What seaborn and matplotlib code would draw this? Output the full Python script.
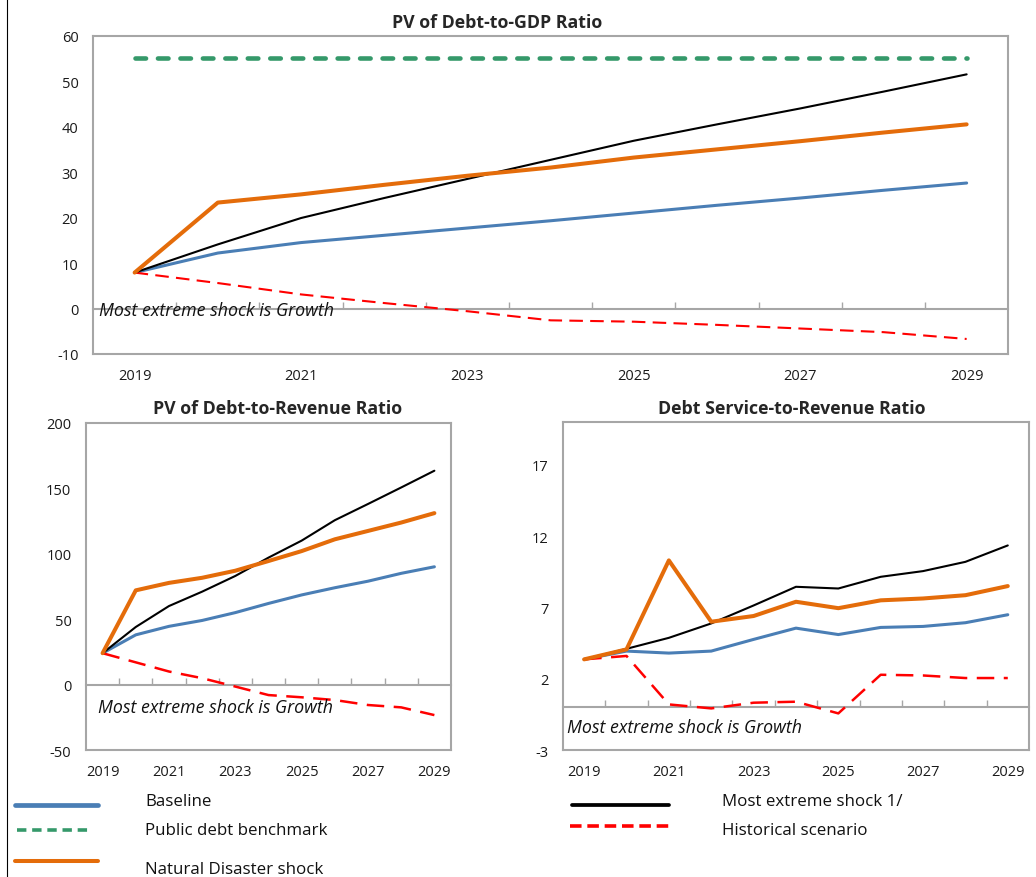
import numpy as np
import pandas as pd
import matplotlib.pyplot as plt
import seaborn as sns
from matplotlib.lines import Line2D

# ---- data ----
years = list(range(2019, 2030))
year_ticks = [2019, 2021, 2023, 2025, 2027, 2029]

# PV of Debt-to-GDP Ratio
gdp_baseline = [7.9, 12.2, 14.5, 16.1, 17.7, 19.3, 21.0, 22.7, 24.3, 26.0, 27.6]
gdp_benchmark = [55, 55, 55, 55, 55, 55, 55, 55, 55, 55, 55]
gdp_disaster = [7.9, 23.3, 25.1, 27.2, 29.2, 31.0, 33.2, 35.0, 36.8, 38.7, 40.5]
gdp_extreme = [7.9, 14.1, 19.9, 24.3, 28.5, 32.7, 36.9, 40.5, 44.0, 47.7, 51.5]
gdp_historical = [7.9, 5.6, 3.1, 1.2, -0.6, -2.6, -2.9, -3.6, -4.4, -5.2, -6.7]

# PV of Debt-to-Revenue Ratio
rev_baseline = [24, 38, 44.5, 49, 55, 62, 68.5, 74, 79, 85, 90]
rev_disaster = [24, 72, 77.7, 81.6, 87, 94.4, 102, 111, 117.4, 123.8, 131]
rev_extreme = [24, 44, 60, 71, 83, 97, 110, 125.6, 138, 150.6, 163.4]
rev_historical = [24, 17, 10, 4.9, -1.5, -8, -9.7, -11.8, -15.6, -17.4, -23.3]

# Debt Service-to-Revenue Ratio
ds_baseline = [3.36, 3.94, 3.8, 3.94, 4.76, 5.55, 5.1, 5.6, 5.67, 5.93, 6.49]
ds_disaster = [3.36, 4.06, 10.3, 6.0, 6.4, 7.4, 6.95, 7.5, 7.63, 7.86, 8.5]
ds_extreme = [3.36, 4.1, 4.87, 5.88, 7.14, 8.45, 8.33, 9.15, 9.55, 10.2, 11.35]
ds_historical = [3.36, 3.6, 0.2, -0.08, 0.32, 0.39, -0.43, 2.28, 2.23, 2.05, 2.05]

legend_labels = ['Baseline', 'Public debt benchmark', 'Natural Disaster shock',
                 'Most extreme shock 1/', 'Historical scenario']

sns.set_style('white')
plt.rcParams['font.family'] = ['Open Sans', 'DejaVu Sans']
plt.rcParams['axes.unicode_minus'] = False

BLUE = '#4a7eb5'
GREEN = '#35996a'
ORANGE = '#e46c0a'
RED = '#ff0000'
GRAY = '#a6a6a6'

styles = {
    'benchmark': dict(color=GREEN, lw=3.3, linestyle=(0, (2.3, 2.6)), dash_capstyle='round'),
    'baseline': dict(color=BLUE, lw=2.2),
    'historical': dict(color=RED, lw=1.5, linestyle=(0, (6.5, 3.5))),
    'extreme': dict(color='black', lw=1.5),
    'disaster': dict(color=ORANGE, lw=2.9, solid_capstyle='round'),
}
# the lower panels use longer red dashes
red_small = dict(color=RED, lw=1.8, linestyle=(0, (7, 3.8)))

fig = plt.figure(figsize=(10.36, 8.78), dpi=100)
ax_top = fig.add_axes([0.0898, 0.5957, 0.8834, 0.3625])
ax_bl = fig.add_axes([0.083, 0.1446, 0.3523, 0.3727])
ax_br = fig.add_axes([0.5434, 0.1446, 0.4498, 0.3735])


def setup(ax, series, ylim, yticks, txt_pos, red=None):
    for key, vals in series:
        df = pd.DataFrame({'year': years, 'value': vals})
        st = red if (key == 'historical' and red is not None) else styles[key]
        sns.lineplot(data=df, x='year', y='value', ax=ax, **st)
    ax.set_xlim(2018.5, 2029.5)
    ax.set_ylim(*ylim)
    ax.set_yticks(yticks)
    ax.set_xticks(year_ticks)
    ax.set_xlabel('')
    ax.set_ylabel('')
    for sp in ax.spines.values():
        sp.set_color(GRAY)
        sp.set_linewidth(1.5)
    ax.tick_params(axis='x', length=0, pad=10, labelsize=10.5, labelcolor='#1a1a1a')
    ax.tick_params(axis='y', length=3.5, width=1, color=GRAY, direction='out', pad=7,
                   labelsize=10.5, labelcolor='#1a1a1a')
    # horizontal axis through zero with category tick marks
    frac = (0 - ylim[0]) / (ylim[1] - ylim[0])
    sec = ax.secondary_xaxis(frac)
    sec.set_xticks([y + 0.5 for y in years[:-1]])
    sec.tick_params(direction='in', length=5, width=1, color=GRAY, labelbottom=False)
    sec.spines['bottom'].set_color(GRAY)
    sec.spines['bottom'].set_linewidth(1.5)
    ax.text(txt_pos[0], txt_pos[1], 'Most extreme shock is Growth', transform=ax.transAxes,
            fontsize=12.8, fontstyle='italic', va='baseline', ha='left', color='#111111')


setup(ax_top, [('benchmark', gdp_benchmark), ('baseline', gdp_baseline),
               ('historical', gdp_historical), ('extreme', gdp_extreme),
               ('disaster', gdp_disaster)],
      (-10, 60), list(range(-10, 61, 10)), (0.006, 0.124))
setup(ax_bl, [('baseline', rev_baseline), ('historical', rev_historical),
              ('extreme', rev_extreme), ('disaster', rev_disaster)],
      (-50, 200), list(range(-50, 201, 50)), (0.033, 0.116), red=red_small)
setup(ax_br, [('baseline', ds_baseline), ('historical', ds_historical),
              ('extreme', ds_extreme), ('disaster', ds_disaster)],
      (-3, 20), [-3, 2, 7, 12, 17], (0.009, 0.055), red=red_small)

# titles
W, H = 1036, 878
fig.text(497 / W, 1 - 23 / H, 'PV of Debt-to-GDP Ratio', ha='center', va='center',
         fontsize=12.8, fontweight='bold')
fig.text(278 / W, 1 - 409 / H, 'PV of Debt-to-Revenue Ratio', ha='center', va='center',
         fontsize=12.8, fontweight='bold')
fig.text(792 / W, 1 - 409 / H, 'Debt Service-to-Revenue Ratio', ha='center', va='center',
         fontsize=12.8, fontweight='bold')

# legend drawn by hand (reference layout)
leg_items = [
    ('baseline', 15, 98, 806, 145, 802),
    ('benchmark', 17, 88, 831, 145, 831),
    ('disaster', 15, 98, 862, 145, 870),
    ('extreme', 572, 669, 806, 722, 802),
    ('historical', 570, 670, 827, 722, 831),
]
for (key, x0, x1, yl, xt, yt), lab in zip(leg_items, legend_labels):
    st = dict(styles[key])
    if key == 'benchmark':
        st.update(lw=2.6, linestyle=(0, (2.6, 1.6)), dash_capstyle='butt')
    elif key == 'historical':
        st.update(lw=2.6, linestyle=(0, (3.2, 1.6)))
    elif key != 'disaster':
        st['lw'] = st['lw'] + 1.2
    fig.add_artist(Line2D([x0 / W, x1 / W], [1 - yl / H, 1 - yl / H], transform=fig.transFigure,
                          **st))
    fig.text(xt / W, 1 - yt / H, lab, ha='left', va='center', fontsize=12.2, color='#111111')

# left frame border
fig.add_artist(Line2D([7 / W, 7 / W], [0, 1], transform=fig.transFigure, color='black', lw=0.8))

fig.savefig('out.png', dpi=100)
